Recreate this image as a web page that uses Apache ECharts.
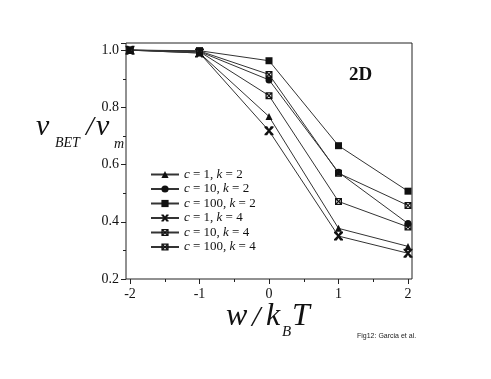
<!DOCTYPE html>
<html><head><meta charset="utf-8">
<script src="https://cdn.jsdelivr.net/npm/echarts@6/dist/echarts.min.js"></script>
<style>html,body{margin:0;padding:0;background:#fff}#c{width:491px;height:379px}</style>
</head><body><div id="c"></div>
<script>
var xValues = [-2, -1, 0, 1, 2];
var seriesNames = ['c = 1, k = 2', 'c = 10, k = 2', 'c = 100, k = 2', 'c = 1, k = 4', 'c = 10, k = 4', 'c = 100, k = 4'];
var c1k2   = [1.0, 0.990, 0.768, 0.377, 0.314];
var c10k2  = [1.0, 0.995, 0.896, 0.573, 0.394];
var c100k2 = [1.0, 0.998, 0.963, 0.666, 0.507];
var c1k4   = [1.0, 0.990, 0.718, 0.350, 0.290];
var c10k4  = [1.0, 0.995, 0.841, 0.471, 0.382];
var c100k4 = [1.0, 0.997, 0.915, 0.570, 0.457];
var xTicks = [-2, -1, 0, 1, 2];
var yTicks = [0.2, 0.4, 0.6, 0.8, 1.0];

var allValues = [c1k2, c10k2, c100k2, c1k4, c10k4, c100k4];
var patSq = 'path://M0 0L10 0L10 10L0 10Z M3 1.8L5 3.8L7 1.8Z M8.2 3L6.2 5L8.2 7Z M7 8.2L5 6.2L3 8.2Z M1.8 7L3.8 5L1.8 3Z';
var starX = 'path://M0 0L3 0L5 3L7 0L10 0L10 1.5L6.5 5L10 8.5L10 10L7 10L5 7L3 10L0 10L0 8.5L3.5 5L0 1.5Z';
var symbols = ['triangle', 'circle', 'rect', starX, patSq, patSq];
var sizes = [7, 7, 7, 9, 7, 7];

var series = allValues.map(function (vals, i) {
  return {
    name: seriesNames[i], type: 'line', xAxisIndex: 1, yAxisIndex: 1,
    data: xValues.map(function (x, j) { return [x, vals[j]]; }),
    symbol: symbols[i], symbolSize: sizes[i], showAllSymbol: true,
    lineStyle: { color: '#333', width: 1 },
    itemStyle: { color: '#111', borderWidth: 0 },
    z: 3 + i
  };
});

var serif = '"Liberation Serif", "DejaVu Serif", serif';
var chart = echarts.init(document.getElementById('c'));
chart.setOption({
  animation: false,
  backgroundColor: '#fff',
  grid: [
    { left: 126, right: 79, top: 43, bottom: 100, show: true, borderColor: '#222', borderWidth: 1, backgroundColor: 'transparent' },
    { left: 130, right: 83, top: 43, bottom: 100 }
  ],
  xAxis: [
    { gridIndex: 0, type: 'value', show: false, min: 0, max: 1 },
    { gridIndex: 1, type: 'value', min: -2, max: 2, interval: 1,
      axisLine: { show: false, onZero: false },
      axisTick: { show: true, inside: false, length: 5, lineStyle: { color: '#222' } },
      minorTick: { show: true, splitNumber: 2, length: 3, lineStyle: { color: '#222' } },
      splitLine: { show: false },
      axisLabel: { color: '#111', fontFamily: serif, fontSize: 14, margin: 8 } }
  ],
  yAxis: [
    { gridIndex: 0, type: 'value', show: false, min: 0, max: 1 },
    { gridIndex: 1, type: 'value', min: 0.2, max: 1.025, interval: 0.2, offset: 4,
      axisLine: { show: false, onZero: false },
      axisTick: { show: true, inside: false, length: 5, lineStyle: { color: '#222' } },
      minorTick: { show: true, splitNumber: 2, length: 3, lineStyle: { color: '#222' } },
      splitLine: { show: false },
      axisLabel: { color: '#111', fontFamily: serif, fontSize: 14, margin: 7,
        formatter: function (v) { return yTicks.some(function (t) { return Math.abs(t - v) < 1e-6; }) ? v.toFixed(1) : ''; } } }
  ],
  legend: {
    orient: 'vertical', left: 145, top: 163, itemWidth: 28, itemHeight: 9, itemGap: 1.5,
    data: seriesNames,
    textStyle: { fontFamily: serif, fontSize: 13, color: '#111',
      rich: { i: { fontFamily: serif, fontSize: 13, fontStyle: 'italic', color: '#111' },
              n: { fontFamily: serif, fontSize: 13, color: '#111' } } },
    formatter: function (name) {
      var m = name.match(/c = (\d+), k = (\d+)/);
      return '{i|c}{n| = ' + m[1] + ', }{i|k}{n| = ' + m[2] + '}';
    }
  },
  graphic: [
    { type: 'text', left: 349, top: 66, style: { text: '2D', font: 'bold 19px ' + serif, fill: '#111' } },
    { type: 'text', x: 36, y: 142, style: { text: 'v', font: 'italic 30px ' + serif, fill: '#111', textVerticalAlign: 'bottom' } },
    { type: 'text', x: 55, y: 150, style: { text: 'BET', font: 'italic 14px ' + serif, fill: '#111', textVerticalAlign: 'bottom' } },
    { type: 'text', x: 86, y: 142, style: { text: '/', font: 'italic 28px ' + serif, fill: '#111', textVerticalAlign: 'bottom' } },
    { type: 'text', x: 96, y: 142, style: { text: 'v', font: 'italic 30px ' + serif, fill: '#111', textVerticalAlign: 'bottom' } },
    { type: 'text', x: 114, y: 151, style: { text: 'm', font: 'italic 14px ' + serif, fill: '#111', textVerticalAlign: 'bottom' } },
    { type: 'text', x: 226, y: 333, style: { text: 'w', font: 'italic 32px ' + serif, fill: '#111', textVerticalAlign: 'bottom' } },
    { type: 'text', x: 252, y: 333, style: { text: '/', font: 'italic 30px ' + serif, fill: '#111', textVerticalAlign: 'bottom' } },
    { type: 'text', x: 266, y: 333, style: { text: 'k', font: 'italic 32px ' + serif, fill: '#111', textVerticalAlign: 'bottom' } },
    { type: 'text', x: 282, y: 340, style: { text: 'B', font: 'italic 15px ' + serif, fill: '#111', textVerticalAlign: 'bottom' } },
    { type: 'text', x: 292, y: 333, style: { text: 'T', font: 'italic 32px ' + serif, fill: '#111', textVerticalAlign: 'bottom' } },
    { type: 'text', x: 357, y: 333, style: { text: 'Fig12: Garcia et al.', font: '7px "Liberation Sans", Arial, sans-serif', fill: '#222' } }
  ],
  series: series
});
</script>
</body></html>
